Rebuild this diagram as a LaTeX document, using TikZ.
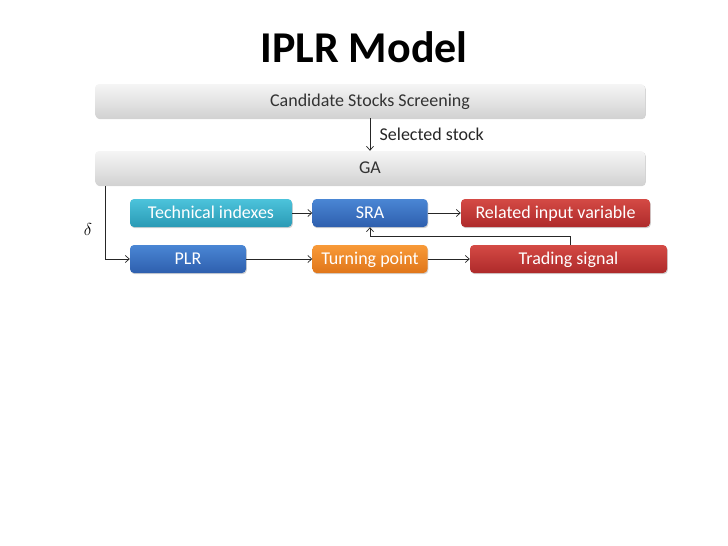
\documentclass[tikz,border=0pt]{standalone}
\usepackage{fontspec}
\setmainfont{Carlito}
\usetikzlibrary{arrows.meta,shadows}
\begin{document}
\begin{tikzpicture}[x=1pt,y=-1pt,
  graybox/.style={draw=none,rounded corners=4pt,top color=gray!8,bottom color=gray!35,
     drop shadow={shadow xshift=0.8pt,shadow yshift=-1.2pt,opacity=0.35},text=black!80,font=\fontsize{18}{20}\selectfont,
     text height=11.5pt,text depth=0pt},
  colbox/.style={draw=none,rounded corners=4pt,
     drop shadow={shadow xshift=0.8pt,shadow yshift=-1.2pt,opacity=0.35},text=white,font=\fontsize{18}{20}\selectfont,
     text height=11.5pt,text depth=0pt},
  conn/.style={-{Straight Barb[length=4pt,width=7pt]},line width=0.7pt,black!85}]
\useasboundingbox (0,0) rectangle (728,546);
\definecolor{cyanA}{HTML}{4CC3DB}\definecolor{cyanB}{HTML}{2A9AB5}
\definecolor{blueA}{HTML}{4A86D4}\definecolor{blueB}{HTML}{2E5FAE}
\definecolor{redA}{HTML}{D44A45}\definecolor{redB}{HTML}{AE2A2A}
\definecolor{orA}{HTML}{F89A38}\definecolor{orB}{HTML}{E0761A}
\node[font=\fontsize{44}{48}\selectfont\bfseries] (title) at (364,47) {IPLR Model};
\node[graybox,minimum width=550pt,minimum height=34pt] (cand) at (370,101) {Candidate Stocks Screening};
\node[graybox,minimum width=550pt,minimum height=34pt] (ga) at (370,168) {GA};
\node[colbox,top color=cyanA,bottom color=cyanB,minimum width=162pt,minimum height=28pt] (tech) at (211,213) {Technical indexes};
\node[colbox,top color=blueA,bottom color=blueB,minimum width=115pt,minimum height=28pt] (sra) at (370,213) {SRA};
\node[colbox,top color=redA,bottom color=redB,minimum width=189pt,minimum height=28pt] (rel) at (555.5,213) {Related input variable};
\node[colbox,top color=blueA,bottom color=blueB,minimum width=116pt,minimum height=28pt] (plr) at (188,259) {PLR};
\node[colbox,top color=orA,bottom color=orB,minimum width=115pt,minimum height=28pt] (tp) at (370,259) {Turning point};
\node[colbox,top color=redA,bottom color=redB,minimum width=197pt,minimum height=28pt] (ts) at (568.5,259) {Trading signal};
\draw[conn] (cand.south) -- node[right,font=\fontsize{18}{20}\selectfont,text=black!85,xshift=6pt,text height=11.5pt,text depth=0pt] (sel) {Selected stock} (ga.north);
\coordinate (galeft) at (105,186);
\draw[conn] (galeft) |- (plr.west);
\node[font=\fontsize{17}{19}\selectfont] (delta) at (88,229) {$\delta$};
\draw[conn] (tech) -- (sra);
\draw[conn] (sra) -- (rel);
\draw[conn] (plr) -- (tp);
\draw[conn] (tp) -- (ts);
\coordinate (tsup) at (570,236);
\draw[conn] (ts.north -| tsup) -- (tsup) -| (sra.south);
\end{tikzpicture}
\end{document}
